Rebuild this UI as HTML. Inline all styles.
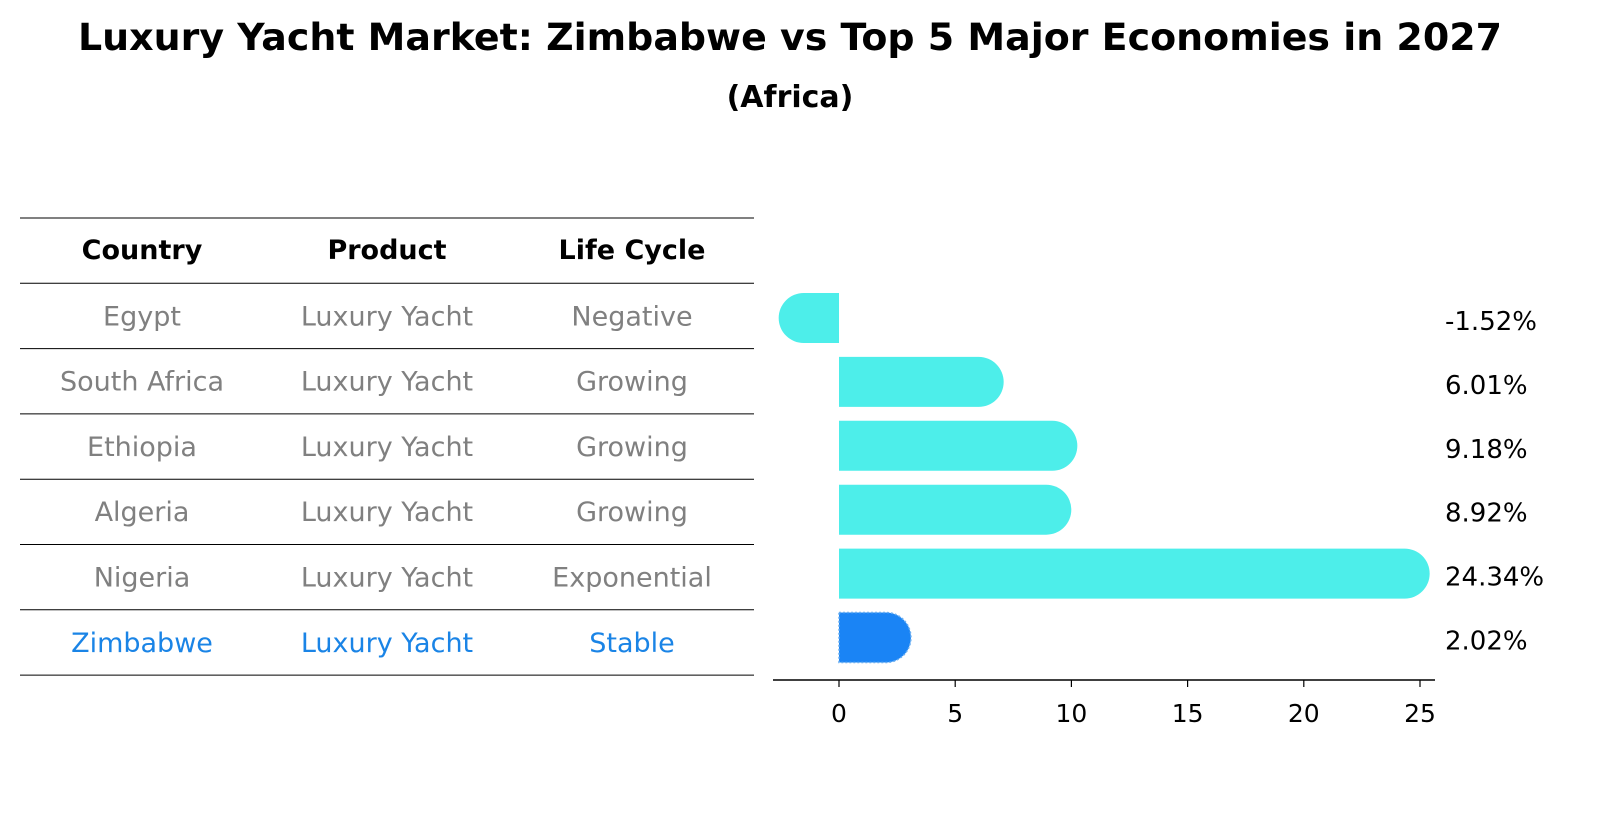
<!DOCTYPE html>
<html><head><meta charset="utf-8"><style>
body{margin:0;background:#fff;}
svg{display:block;font-family:"DejaVu Sans","Liberation Sans",sans-serif;}
</style></head><body>
<svg id="chart" width="1604" height="823" viewBox="0 0 1604 823">
<text x="790" y="50" text-anchor="middle" font-size="37" font-weight="bold" textLength="1424" lengthAdjust="spacingAndGlyphs">Luxury Yacht Market: Zimbabwe vs Top 5 Major Economies in 2027</text>
<text x="790" y="107" text-anchor="middle" font-size="30" font-weight="bold">(Africa)</text>
<g id="table"></g>
<g id="bars"></g>
</svg>
<script>
const countries=["Egypt","South Africa","Ethiopia","Algeria","Nigeria","Zimbabwe"];
const products=["Luxury Yacht","Luxury Yacht","Luxury Yacht","Luxury Yacht","Luxury Yacht","Luxury Yacht"];
const lifeCycles=["Negative","Growing","Growing","Growing","Exponential","Stable"];
const growth=[-1.52,6.01,9.18,8.92,24.34,2.02];
const valueLabels=["-1.52%","6.01%","9.18%","8.92%","24.34%","2.02%"];
const xTicks=[0,5,10,15,20,25];
const headers=["Country","Product","Life Cycle"];

const NS="http://www.w3.org/2000/svg";
function mk(tag,attrs,parent){const e=document.createElementNS(NS,tag);for(const k in attrs)e.setAttribute(k,attrs[k]);parent.appendChild(e);return e;}
const tbl=document.getElementById('table');
const colX=[142,387,632];
const lineY=i=>218+i*65.3;
for(let i=0;i<=7;i++){
  const l=mk('line',{x1:20,x2:754,y1:lineY(i),y2:lineY(i),stroke:'#000','stroke-width':1},tbl);
  
  
}
headers.forEach((h,c)=>{
  const t=mk('text',{x:colX[c],y:lineY(0)+41,'text-anchor':'middle','font-size':27,'font-weight':'bold'},tbl);
  t.textContent=h;
  
  
});
countries.forEach((cn,r)=>{
  const vals=[cn,products[r],lifeCycles[r]];
  const col=cn==="Zimbabwe"?"#1a84e6":"#808080";
  vals.forEach((v,c)=>{
    const t=mk('text',{x:colX[c],y:lineY(r+1)+42,'text-anchor':'middle','font-size':27,fill:col},tbl);
    t.textContent=v;
    
    
  });
});
const g=document.getElementById('bars');
const x0=839,ppu=23.24;
const xs=v=>x0+v*ppu;
const yc=i=>318+i*63.9;
const bh=50,r=25;
growth.forEach((v,i)=>{
  const isZ=countries[i]==="Zimbabwe";
  const fill=isZ?"#1a84f5":"#4deeea";
  const xe=xs(v),top=yc(i)-bh/2,dir=v>=0?1:-1;
  const d=`M${x0},${top} L${xe},${top} A${r},${r} 0 0 ${dir>0?1:0} ${xe},${top+bh} L${x0},${top+bh} Z`;
  const p=mk('path',{d:d,fill:fill},g);
  if(isZ){p.setAttribute('stroke','#6aaef0');p.setAttribute('stroke-dasharray','2,2');p.setAttribute('stroke-width','1.5');}
  
  
  const t=mk('text',{x:1445,y:yc(i)+12,'font-size':26},g);
  t.textContent=valueLabels[i];
  
  
});
const ax=mk('line',{x1:773,x2:1435,y1:680,y2:680,stroke:'#000','stroke-width':1.5},g);


xTicks.forEach(tv=>{
  const tk=mk('line',{x1:xs(tv),x2:xs(tv),y1:680,y2:687,stroke:'#000','stroke-width':1.2},g);
  
  
  const t=mk('text',{x:xs(tv),y:722,'text-anchor':'middle','font-size':25},g);
  t.textContent=tv;
  
  
});
</script>
</body></html>
